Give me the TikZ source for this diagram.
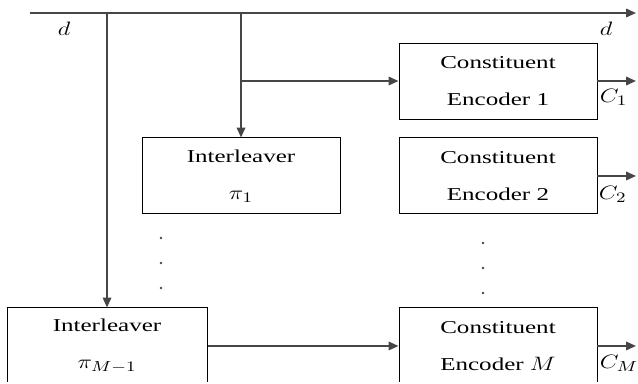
\documentclass[tikz,border=0pt]{standalone}
\usepackage{fontspec}
\setmainfont[FakeStretch=1.38]{Liberation Serif}
\usepackage{graphicx}
\usepackage{tikz}
\usetikzlibrary{
  positioning,
  arrows.meta
}
\definecolor{wire}{RGB}{70,70,70}
\newcommand{\mth}[1]{\scalebox{1.45}[1.15]{$#1$}}

\begin{document}
\begin{tikzpicture}[
  >={Triangle[length=7pt, width=6pt]},
  block/.style={draw=black, line width=0.7pt,
                minimum width=4.95cm, minimum height=1.9cm,
                inner sep=0pt, align=center,
                font=\fontsize{12.9}{26}\selectfont},
  sig/.style={->, line width=1.3pt, wire},
  lbl/.style={font=\fontsize{12.4}{14}\selectfont, inner sep=0pt},
]
\useasboundingbox (0,0) rectangle (15.95,-9.575);
\clip (0,0) rectangle (15.95,-9.54);

% input line
\coordinate (din) at (0.75,-0.325);
\coordinate (dout) at (15.9,-0.325);

% encoders and interleavers
\node[block] (enc1) at (12.45,-2.025) {Constituent\\Encoder 1};
\node[block, below=0.45cm of enc1] (enc2) {Constituent\\Encoder 2};
\node[block, left=1.45cm of enc2] (int1) {Interleaver\\\mth{\pi_1}};
\node[block, below=2.325cm of enc2] (encM) {Constituent\\Encoder \mth{M}};
\node[block, left=4.775cm of encM, minimum width=5cm] (intM) {Interleaver\\\mth{\pi_{M-1}}};

\coordinate (tap1) at (intM.north |- din);
\coordinate (tap2) at (int1.north |- din);
\coordinate (br1) at (tap2 |- enc1.west);
\coordinate (c1) at (enc1.east -| dout);
\coordinate (c2) at (enc2.east -| dout);
\coordinate (cM) at (encM.east -| dout);

\draw[sig] (din) -- (dout);
\draw[sig] (tap1) -- (intM.north);
\draw[sig] (tap2) -- (int1.north);
\draw[sig] (br1) -- (enc1.west);
\draw[sig] (intM) -- (encM);

% outputs
\draw[sig] (enc1.east) -- (c1);
\draw[sig] (enc2.east) -- (c2);
\draw[sig] (encM.east) -- (cM);

\node[lbl] (dleft) at (1.6,-0.725) {\mth{d}};
\node[lbl] (dright) at (15.15,-0.725) {\mth{d}};
\node[lbl, below right=0.2cm and 0.05cm of enc1.east] (c1lbl) {\mth{C_1}};
\node[lbl, below right=0.25cm and 0.03cm of enc2.east] (c2lbl) {\mth{C_2}};
\node[lbl, below right=0.23cm and 0.05cm of encM.east] (cMlbl) {\mth{C_M}};

% dots
\foreach \y in {-5.95,-6.575,-7.2}
  \fill[wire] (4.025,\y) circle (0.9pt);
\foreach \y in {-6.075,-6.7,-7.325}
  \fill[wire] (12.075,\y) circle (0.9pt);

\end{tikzpicture}
\end{document}
